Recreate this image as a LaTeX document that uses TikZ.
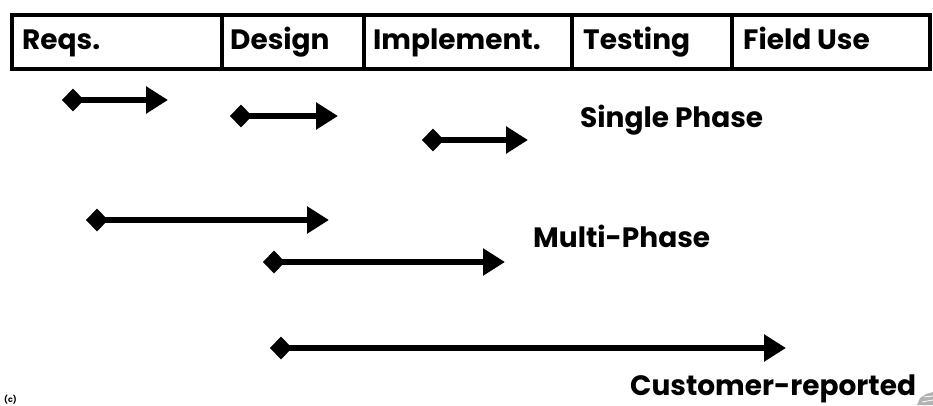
\documentclass[tikz,border=0pt]{standalone}
\usepackage{fontspec}
\setmainfont{Poppins}
\usetikzlibrary{arrows.meta}
\tikzset{
  phasebox/.style={draw=black, line width=4pt, minimum height=54pt, inner sep=0pt, anchor=north west},
  phasetext/.style={font=\fontsize{28}{32}\selectfont\bfseries, anchor=base west, inner sep=0pt},
  label/.style={font=\fontsize{28}{32}\selectfont\bfseries, anchor=base west, inner sep=0pt},
  span/.style={line width=6pt, {Diamond[length=22pt,width=23pt]}-{Triangle[length=22pt,width=26pt]}},
}
\begin{document}
\begin{tikzpicture}[x=1pt,y=1pt]
  \useasboundingbox (0,0) rectangle (933,405);
  % phase bar
  \node[phasebox, minimum width=210pt] (reqs) at (10,392) {};
  \node[phasebox, minimum width=142pt] (design) at (220,392) {};
  \node[phasebox, minimum width=208pt] (impl) at (362,392) {};
  \node[phasebox, minimum width=160pt] (test) at (570,392) {};
  \node[phasebox, minimum width=198pt] (field) at (730,392) {};
  \node[phasetext] (treqs) at (22,355) {Reqs.};
  \node[phasetext] (tdesign) at (230,355) {Design};
  \node[phasetext] (timpl) at (373,355) {Implement.};
  \node[phasetext] (ttest) at (583,355) {Testing};
  \node[phasetext] (tfield) at (743,355) {Field Use};
  % single-phase spans
  \coordinate (s1a) at (62,305);  \coordinate (s1b) at (168,305);
  \coordinate (s2a) at (230,289); \coordinate (s2b) at (338,289);
  \coordinate (s3a) at (422,265); \coordinate (s3b) at (528,265);
  \draw[span] (s1a) -- (s1b);
  \draw[span] (s2a) -- (s2b);
  \draw[span] (s3a) -- (s3b);
  \node[label] (single) at (580,278) {Single Phase};
  % multi-phase spans
  \coordinate (m1a) at (86,185);  \coordinate (m1b) at (329,185);
  \coordinate (m2a) at (263,143); \coordinate (m2b) at (505,143);
  \draw[span] (m1a) -- (m1b);
  \draw[span] (m2a) -- (m2b);
  \node[label] (multi) at (533,158) {Multi-Phase};
  % customer-reported span
  \coordinate (c1a) at (270,57); \coordinate (c1b) at (786,57);
  \draw[span] (c1a) -- (c1b);
  \node[label] (cust) at (630,9.5) {Customer-reported};
  % footer marks
  \node[font=\fontsize{8}{9}\selectfont\bfseries, anchor=south west, inner sep=0pt] (copy) at (4,1) {(c)};
  \fill[gray!60] (917,0) -- (920,7) -- (926,11) -- (933,13) -- (933,0) -- cycle;
  \draw[white, line width=0.8pt] (922,3) -- (933,5) (924,8) -- (933,9);
\end{tikzpicture}
\end{document}
